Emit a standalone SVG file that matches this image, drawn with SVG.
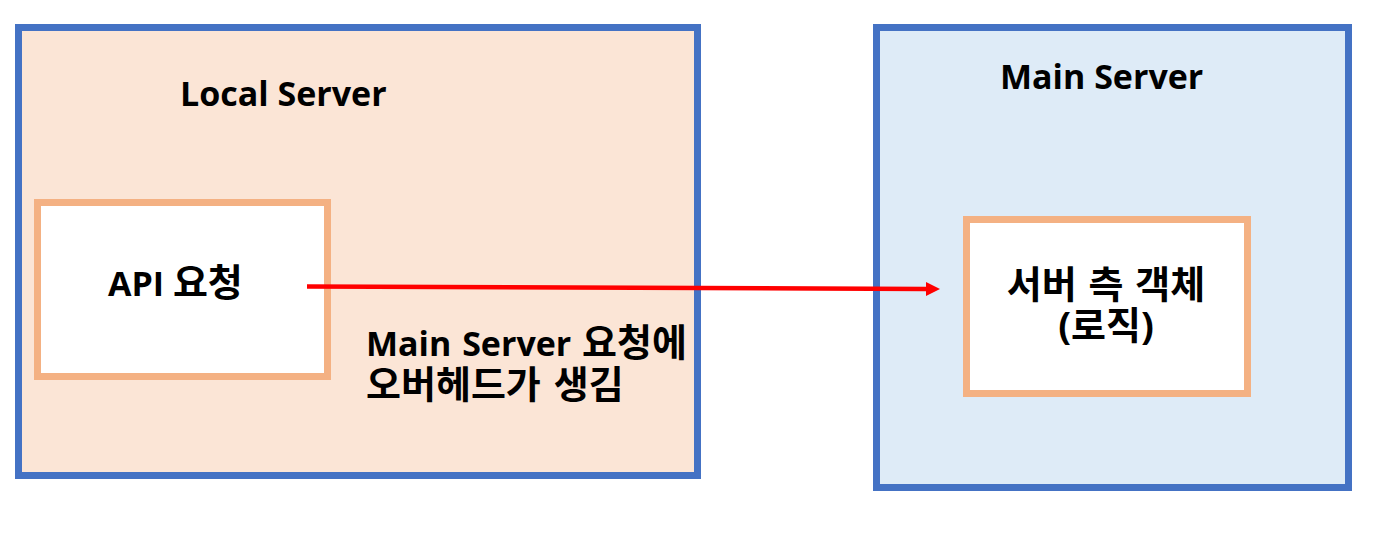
<svg xmlns="http://www.w3.org/2000/svg" width="1388" height="540" viewBox="0 0 1388 540">
<defs>
<style>
.outer{stroke:#4472C4;stroke-width:7}
.inner{fill:#FFFFFF;stroke:#F4B183;stroke-width:7}
.t{font-family:"Open Sans","Noto Sans CJK KR",sans-serif;font-weight:bold;fill:#000000;font-size:34px}
.k{font-size:38px}
.conn{stroke:#FF0000;stroke-width:4.5;fill:none}
</style>
<marker id="ah" markerWidth="14" markerHeight="14" refX="0" refY="7" orient="auto" markerUnits="userSpaceOnUse">
<path d="M0,0 L14,7 L0,14 Z" fill="#FF0000"/>
</marker>
</defs>
<rect width="1388" height="540" fill="#FFFFFF"/>
<g id="local-server">
<rect class="outer" x="18.5" y="27.5" width="679" height="448" fill="#FBE5D6"/>
<text class="t" x="180" y="106">Local Server</text>
</g>
<g id="main-server">
<rect class="outer" x="876.5" y="27.5" width="472" height="460" fill="#DEEBF7"/>
<text class="t" x="1000" y="89">Main Server</text>
</g>
<g id="api-request">
<rect class="inner" x="37.5" y="202.5" width="290" height="174"/>
<text class="t" x="108" y="296">API <tspan class="k">요청</tspan></text>
</g>
<g id="server-object">
<rect class="inner" x="966.5" y="219.5" width="281" height="174"/>
<text class="t k" x="1106" y="298" text-anchor="middle" word-spacing="2">서버 측 객체</text>
<text class="t k" x="1106" y="339" text-anchor="middle">(로직)</text>
</g>
<g id="overhead-note">
<text class="t" x="366" y="356" word-spacing="2">Main Server <tspan class="k">요청에</tspan></text>
<text class="t k" x="366" y="398" word-spacing="3">오버헤드가 생김</text>
</g>
<g id="connectors">
<line class="conn" x1="307" y1="286.5" x2="926" y2="289" marker-end="url(#ah)"/>
</g>
</svg>
